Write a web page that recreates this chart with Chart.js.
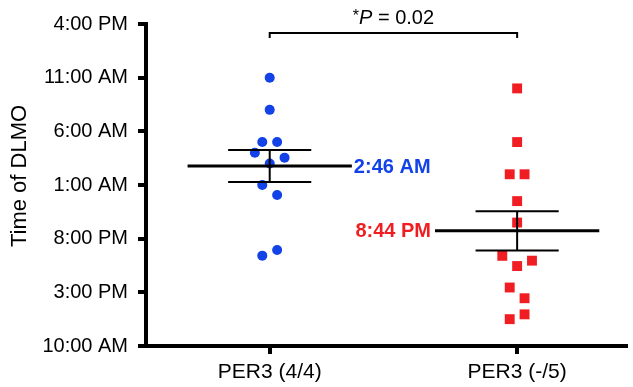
<!DOCTYPE html>
<html>
<head>
<meta charset="utf-8">
<script src="https://cdn.jsdelivr.net/npm/chart.js@4/dist/chart.umd.min.js"></script>
<style>
  html, body { margin: 0; padding: 0; background: #fff; }
  #wrap { width: 633px; height: 387px; position: relative; }
</style>
</head>
<body>
<div id="wrap"><canvas id="c" width="633" height="387"></canvas></div>
<script>
// ---- data (hours after 10:00 AM) ----
const categories = ["PER3 (4/4)", "PER3 (-/5)"];
const yTickLabels = ["10:00 AM", "3:00 PM", "8:00 PM", "1:00 AM", "6:00 AM", "11:00 AM", "4:00 PM"];
const blueValues = [25.0, 22.0, 19.0, 19.0, 18.0, 17.55, 17.0, 15.0, 14.07, 8.42, 8.95];
const blueJitter = [0, 0, -0.03, 0.03, -0.06, 0.06, 0, -0.03, 0.03, -0.03, 0.03];
const redValues = [24.0, 19.0, 16.0, 16.0, 13.5, 11.5, 8.4, 7.95, 7.45, 5.45, 4.45, 2.95, 2.5];
const redJitter = [0, 0, -0.03, 0.03, 0, 0, -0.06, 0.06, 0, -0.03, 0.03, 0.03, -0.03];
const means = [16.767, 10.733];
const meanLabels = ["2:46 AM", "8:44 PM"];
const sems = [1.49, 1.83];
const yTitle = "Time of DLMO";

const BLUE = "rgb(18,66,232)";
const RED = "rgb(240,30,34)";
const FONT = "'Liberation Sans', Arial, Helvetica, sans-serif";

const MEAN_HALF = 0.332, CAP_HALF = 0.168;

function pts(vals, jit, xi) { return vals.map((v, i) => ({ x: xi + jit[i], y: v })); }
function lineDs(data, width) {
  return { type: 'line', data, borderColor: '#000', borderWidth: width, pointRadius: 0,
           showLine: true, fill: false, tension: 0, order: 0 };
}

const datasets = [];
datasets.push({ data: pts(blueValues, blueJitter, 0), backgroundColor: BLUE, borderColor: BLUE,
  pointStyle: 'circle', pointRadius: 5, borderWidth: 0, order: 1 });
datasets.push({ data: pts(redValues, redJitter, 1), backgroundColor: RED, borderColor: RED,
  pointStyle: 'rect', pointRadius: 7, borderWidth: 0, order: 1 });
means.forEach((m, i) => {
  datasets.push(lineDs([{ x: i - MEAN_HALF, y: m }, { x: i + MEAN_HALF, y: m }], 3));
  datasets.push(lineDs([{ x: i - CAP_HALF, y: m + sems[i] }, { x: i + CAP_HALF, y: m + sems[i] }], 2));
  datasets.push(lineDs([{ x: i - CAP_HALF, y: m - sems[i] }, { x: i + CAP_HALF, y: m - sems[i] }], 2));
  datasets.push(lineDs([{ x: i, y: m - sems[i] }, { x: i, y: m + sems[i] }], 2));
});
// significance bracket
datasets.push(lineDs([{ x: 0, y: 28.7 }, { x: 0, y: 29.15 }, { x: 1, y: 29.15 }, { x: 1, y: 28.7 }], 2));

const annot = {
  id: 'annot',
  afterDatasetsDraw(chart) {
    const ctx = chart.ctx, xs = chart.scales.x, ys = chart.scales.y;
    ctx.save();
    ctx.textBaseline = 'middle';
    // y-axis title
    ctx.save();
    ctx.translate(20, 176);
    ctx.rotate(-Math.PI / 2);
    ctx.textAlign = 'center';
    ctx.fillStyle = '#000';
    ctx.font = "22px " + FONT;
    ctx.fillText(yTitle, 0, 0);
    ctx.restore();
    // mean labels
    ctx.font = "bold 20px " + FONT;
    ctx.fillStyle = BLUE; ctx.textAlign = 'left';
    ctx.fillText(meanLabels[0], xs.getPixelForValue(0 + MEAN_HALF) + 2, ys.getPixelForValue(means[0]) + 1);
    ctx.fillStyle = RED; ctx.textAlign = 'right';
    ctx.fillText(meanLabels[1], xs.getPixelForValue(1 - MEAN_HALF) - 4, ys.getPixelForValue(means[1]) + 1);
    // p value
    const cx = (xs.getPixelForValue(0) + xs.getPixelForValue(1)) / 2;
    const cy = ys.getPixelForValue(29.15) - 15;
    ctx.fillStyle = '#000';
    ctx.font = "italic 20px " + FONT;
    const pW = ctx.measureText("P").width;
    ctx.font = "20px " + FONT;
    const restW = ctx.measureText(" = 0.02").width;
    ctx.font = "16px " + FONT;
    const sw = ctx.measureText("*").width;
    const left = cx - (pW + restW + sw) / 2;
    ctx.textAlign = 'left';
    ctx.fillText("*", left, cy - 2);
    ctx.font = "italic 20px " + FONT;
    ctx.fillText("P", left + sw, cy);
    ctx.font = "20px " + FONT;
    ctx.fillText(" = 0.02", left + sw + pW, cy);
    ctx.restore();
  }
};

new Chart(document.getElementById('c'), {
  type: 'scatter',
  data: { datasets },
  options: {
    responsive: false,
    animation: false,
    devicePixelRatio: 1,
    layout: { padding: { top: 24, right: 0, left: 0, bottom: 0 } },
    plugins: { legend: { display: false }, tooltip: { enabled: false } },
    scales: {
      x: {
        type: 'linear', min: -0.5, max: 1.44,
        afterBuildTicks(axis) { axis.ticks = categories.map((c, i) => ({ value: i })); },
        afterFit(axis) { axis.height = 41; },
        ticks: { callback: (v) => categories[v], color: '#000', font: { family: FONT, size: 21 }, padding: 6, maxRotation: 0, autoSkip: false },
        grid: { display: true, drawOnChartArea: false, drawTicks: true, tickLength: 8, lineWidth: 4, color: '#000' },
        border: { display: true, width: 4, color: '#000' }
      },
      y: {
        type: 'linear', min: 0, max: 30,
        afterBuildTicks(axis) { axis.ticks = yTickLabels.map((t, i) => ({ value: i * 5 })); },
        afterFit(axis) { axis.width = 146; },
        ticks: { callback: (v) => yTickLabels[Math.round(v / 5)], color: '#000', font: { family: FONT, size: 20 }, padding: 10, autoSkip: false },
        grid: { display: true, drawOnChartArea: false, drawTicks: true, tickLength: 8, lineWidth: 4, color: '#000' },
        border: { display: true, width: 4, color: '#000' }
      }
    }
  },
  plugins: [annot]
});
</script>
</body>
</html>
